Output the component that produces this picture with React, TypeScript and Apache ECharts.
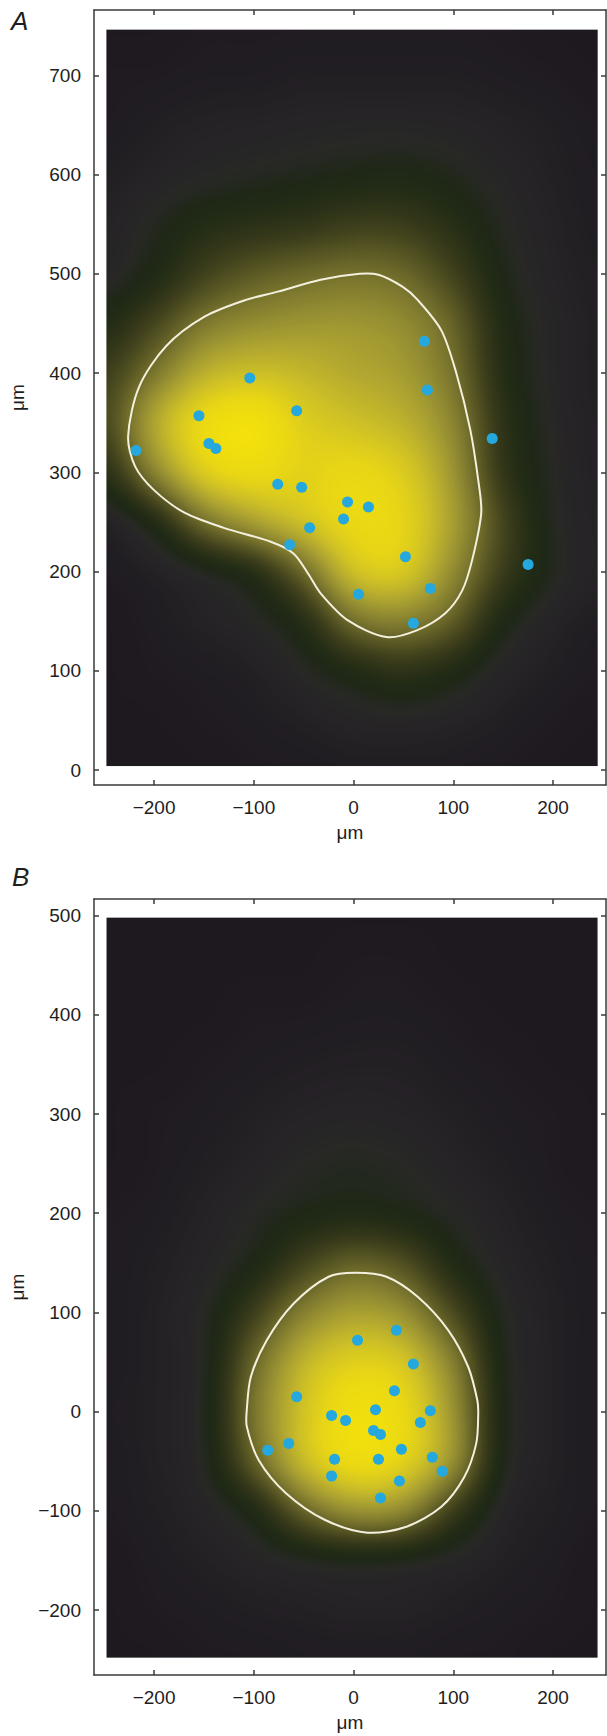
import React, { useEffect, useRef } from "react";
import * as echarts from "echarts";

// ---------------- data ----------------
const X_TICKS = [-200, -100, 0, 100, 200];
const A_Y_TICKS = [0, 100, 200, 300, 400, 500, 600, 700];
const B_Y_TICKS = [-200, -100, 0, 100, 200, 300, 400, 500];

// cell positions (µm), panel A
const A_CELL_X = [71, -104, 74, -155, -57, 139, -218, -145, -138, -76, -52, -6, 15, -10, -44, -64, 52, 175, 5, 77, 60];
const A_CELL_Y = [432, 395, 383, 357, 362, 334, 322, 329, 324, 288, 285, 270, 265, 253, 244, 227, 215, 207, 177, 183, 148];

// cell positions (µm), panel B
const B_CELL_X = [4, 43, 60, 41, -57, 22, 77, -22, -8, 67, 20, 27, -65, -86, 48, -19, 25, 79, 89, -22, 46, 27];
const B_CELL_Y = [72, 82, 48, 21, 15, 2, 1, -4, -9, -11, -19, -23, -32, -39, -38, -48, -48, -46, -60, -65, -70, -87];

// white contour line (closed), panel A
const A_CONTOUR_X = [6, 25, 49, 64, 88, 103, 117, 125, 128, 119, 109, 92, 64, 33, -6, -33, -45, -60, -83, -130, -169, -200, -219, -226, -215, -188, -149, -107, -76, -33];
const A_CONTOUR_Y = [500, 499, 487, 474, 443, 400, 343, 292, 259, 212, 181, 158, 141, 134, 151, 178, 197, 218, 230, 244, 259, 282, 306, 336, 386, 427, 457, 474, 482, 494];

// white contour line (closed), panel B
const B_CONTOUR_X = [2, 33, 64, 95, 115, 124, 125, 123, 111, 88, 53, 14, -29, -68, -95, -107, -107, -103, -87, -60, -25];
const B_CONTOUR_Y = [140, 136, 116, 82, 45, 12, -2, -32, -66, -96, -116, -122, -109, -82, -49, -15, 2, 35, 72, 109, 136];

// density field (relative, 0..1) read on a 50 µm grid
const FIELD_X = [-250, -200, -150, -100, -50, 0, 50, 100, 150, 200, 250];

const A_FIELD_Y = [750, 700, 650, 600, 550, 500, 450, 400, 350, 300, 250, 200, 150, 100, 50, 0];
const A_FIELD = [
  [0, 0, 0.01, 0.01, 0.01, 0.01, 0.01, 0.01, 0.01, 0, 0],
  [0.01, 0.01, 0.02, 0.02, 0.03, 0.03, 0.03, 0.03, 0.02, 0.01, 0],
  [0.01, 0.03, 0.05, 0.06, 0.07, 0.08, 0.08, 0.07, 0.05, 0.03, 0.01],
  [0.03, 0.06, 0.09, 0.11, 0.13, 0.15, 0.16, 0.13, 0.08, 0.04, 0.02],
  [0.05, 0.12, 0.2, 0.23, 0.26, 0.31, 0.3, 0.22, 0.11, 0.05, 0.02],
  [0.07, 0.17, 0.32, 0.42, 0.47, 0.5, 0.47, 0.33, 0.14, 0.06, 0.03],
  [0.18, 0.34, 0.53, 0.6, 0.63, 0.64, 0.6, 0.46, 0.18, 0.08, 0.03],
  [0.3, 0.52, 0.74, 0.8, 0.76, 0.7, 0.66, 0.51, 0.2, 0.08, 0.03],
  [0.34, 0.72, 0.95, 1.0, 0.86, 0.8, 0.74, 0.58, 0.24, 0.09, 0.04],
  [0.22, 0.58, 0.88, 0.94, 0.88, 0.92, 0.86, 0.64, 0.26, 0.1, 0.04],
  [0.03, 0.18, 0.5, 0.68, 0.82, 0.93, 0.9, 0.68, 0.34, 0.11, 0.05],
  [0.01, 0.04, 0.1, 0.2, 0.47, 0.82, 0.86, 0.6, 0.3, 0.12, 0.05],
  [0, 0.02, 0.05, 0.09, 0.2, 0.5, 0.56, 0.44, 0.16, 0.06, 0.02],
  [0, 0.01, 0.02, 0.04, 0.1, 0.18, 0.25, 0.18, 0.07, 0.03, 0.01],
  [0, 0, 0.01, 0.02, 0.04, 0.07, 0.08, 0.06, 0.03, 0.01, 0],
  [0, 0, 0, 0.01, 0.01, 0.02, 0.02, 0.02, 0.01, 0, 0],
];

const B_FIELD_Y = [500, 450, 400, 350, 300, 250, 200, 150, 100, 50, 0, -50, -100, -150, -200, -250];
const B_FIELD = [
  [0, 0, 0, 0, 0, 0, 0, 0, 0, 0, 0],
  [0, 0, 0, 0, 0, 0.01, 0.01, 0, 0, 0, 0],
  [0, 0, 0, 0.01, 0.01, 0.02, 0.02, 0.01, 0, 0, 0],
  [0, 0, 0.01, 0.02, 0.03, 0.04, 0.04, 0.02, 0.01, 0, 0],
  [0, 0.01, 0.02, 0.04, 0.06, 0.07, 0.06, 0.04, 0.02, 0.01, 0],
  [0, 0.01, 0.03, 0.06, 0.1, 0.12, 0.1, 0.06, 0.03, 0.01, 0],
  [0.01, 0.02, 0.05, 0.1, 0.15, 0.17, 0.15, 0.1, 0.05, 0.02, 0.01],
  [0.01, 0.03, 0.07, 0.15, 0.32, 0.45, 0.38, 0.18, 0.07, 0.03, 0.01],
  [0.01, 0.04, 0.1, 0.31, 0.56, 0.68, 0.62, 0.36, 0.11, 0.04, 0.01],
  [0.01, 0.04, 0.1, 0.47, 0.76, 0.88, 0.84, 0.56, 0.13, 0.04, 0.01],
  [0.02, 0.04, 0.11, 0.52, 0.82, 0.98, 0.93, 0.64, 0.14, 0.04, 0.01],
  [0.01, 0.04, 0.1, 0.45, 0.8, 0.96, 0.9, 0.64, 0.13, 0.04, 0.01],
  [0.01, 0.03, 0.07, 0.17, 0.46, 0.63, 0.6, 0.3, 0.07, 0.03, 0.01],
  [0, 0.02, 0.04, 0.07, 0.1, 0.12, 0.11, 0.08, 0.04, 0.02, 0],
  [0, 0.01, 0.02, 0.03, 0.04, 0.05, 0.05, 0.03, 0.02, 0.01, 0],
  [0, 0, 0.01, 0.01, 0.02, 0.02, 0.02, 0.01, 0.01, 0, 0],
];

// extent of the coloured map [xMin, xMax, yMin, yMax]
const A_MAP_EXTENT = [-249, 246, 4, 746];
const B_MAP_EXTENT = [-249, 246, -248, 498];

// axis ranges
const X_RANGE = [-260.2, 253.1];
const A_Y_RANGE = [-15.1, 765.8];
const B_Y_RANGE = [-265.5, 516.8];

// colour scale
const CMAP_T = [0, 0.05, 0.1, 0.15, 0.2, 0.3, 0.4, 0.5, 0.6, 0.7, 0.8, 0.9, 1];
const CMAP_RGB = [
  [29, 25, 31],
  [37, 34, 38],
  [40, 40, 38],
  [31, 40, 23],
  [35, 44, 21],
  [58, 60, 27],
  [86, 85, 35],
  [118, 114, 45],
  [148, 141, 50],
  [178, 168, 48],
  [207, 193, 38],
  [232, 214, 22],
  [245, 226, 10],
];

function buildLut(): number[][] {
  const lut: number[][] = [];
  for (let k = 0; k < 256; k++) {
    const t = k / 255;
    let i = 0;
    while (i < CMAP_T.length - 2 && t > CMAP_T[i + 1]) i++;
    const f = Math.max(0, Math.min(1, (t - CMAP_T[i]) / (CMAP_T[i + 1] - CMAP_T[i])));
    const a = CMAP_RGB[i];
    const b = CMAP_RGB[i + 1];
    lut.push([0, 1, 2].map((j) => Math.round(a[j] + (b[j] - a[j]) * f)));
  }
  return lut;
}

function buildFieldImage(gridX: number[], gridY: number[], rows: number[][], extent: number[]): string {
  const nx = gridX.length;
  const ny = gridY.length;
  const small = document.createElement("canvas");
  small.width = nx;
  small.height = ny;
  const sctx = small.getContext("2d")!;
  const sImg = sctx.createImageData(nx, ny);
  for (let r = 0; r < ny; r++) {
    for (let c = 0; c < nx; c++) {
      const v = Math.round(Math.max(0, Math.min(1, rows[r][c])) * 255);
      const k = (r * nx + c) * 4;
      sImg.data[k] = v;
      sImg.data[k + 1] = v;
      sImg.data[k + 2] = v;
      sImg.data[k + 3] = 255;
    }
  }
  sctx.putImageData(sImg, 0, 0);

  const stepX = gridX[1] - gridX[0];
  const stepY = gridY[0] - gridY[1];
  const fullX0 = gridX[0] - stepX / 2;
  const fullX1 = gridX[nx - 1] + stepX / 2;
  const fullY1 = gridY[0] + stepY / 2;
  const fullY0 = gridY[ny - 1] - stepY / 2;

  const mid = document.createElement("canvas");
  mid.width = Math.round(fullX1 - fullX0);
  mid.height = Math.round(fullY1 - fullY0);
  const mctx = mid.getContext("2d")!;
  mctx.imageSmoothingEnabled = true;
  (mctx as any).imageSmoothingQuality = "high";
  mctx.drawImage(small, 0, 0, mid.width, mid.height);

  const [x0, x1, y0, y1] = extent;
  const out = document.createElement("canvas");
  out.width = Math.round(x1 - x0);
  out.height = Math.round(y1 - y0);
  const octx = out.getContext("2d")!;
  (octx as any).filter = "blur(6px)";
  octx.drawImage(mid, fullX0 - x0, y1 - fullY1);
  (octx as any).filter = "none";

  const lut = buildLut();
  const img = octx.getImageData(0, 0, out.width, out.height);
  const d = img.data;
  for (let k = 0; k < d.length; k += 4) {
    const col = lut[d[k]];
    d[k] = col[0];
    d[k + 1] = col[1];
    d[k + 2] = col[2];
    d[k + 3] = 255;
  }
  octx.putImageData(img, 0, 0);
  return out.toDataURL("image/png");
}

const FONT = '"Liberation Sans", Arial, Helvetica, sans-serif';
const AXIS_COLOR = "#3a3a3a";
const minus = (v: number) => String(v).replace("-", "\u2212");

function makeXAxes(gridIndex: number, labelMargin: number, nameGap: number) {
  const line = { show: true, onZero: false, lineStyle: { color: AXIS_COLOR, width: 1.5 } };
  const tick = { show: true, inside: true, length: 5, customValues: X_TICKS, lineStyle: { color: AXIS_COLOR, width: 1.5 } };
  return [
    {
      type: "value",
      gridIndex,
      position: "bottom",
      min: X_RANGE[0],
      max: X_RANGE[1],
      axisLine: line,
      axisTick: tick,
      splitLine: { show: false },
      axisLabel: {
        customValues: X_TICKS,
        formatter: minus,
        margin: labelMargin,
        fontSize: 19,
        color: "#1e1e1e",
        fontFamily: FONT,
      },
      name: "μm",
      nameLocation: "middle",
      nameGap,
      nameTextStyle: { fontSize: 19, color: "#1e1e1e", fontFamily: FONT },
    },
    {
      type: "value",
      gridIndex,
      position: "top",
      min: X_RANGE[0],
      max: X_RANGE[1],
      axisLine: line,
      axisTick: tick,
      splitLine: { show: false },
      axisLabel: { show: false },
    },
  ];
}

function makeYAxes(gridIndex: number, range: number[], ticks: number[]) {
  const line = { show: true, onZero: false, lineStyle: { color: AXIS_COLOR, width: 1.5 } };
  const tick = { show: true, inside: true, length: 5, customValues: ticks, lineStyle: { color: AXIS_COLOR, width: 1.5 } };
  return [
    {
      type: "value",
      gridIndex,
      position: "left",
      min: range[0],
      max: range[1],
      axisLine: line,
      axisTick: tick,
      splitLine: { show: false },
      axisLabel: {
        customValues: ticks,
        formatter: minus,
        margin: 13,
        fontSize: 19,
        color: "#1e1e1e",
        fontFamily: FONT,
      },
      name: "μm",
      nameLocation: "middle",
      nameGap: 67,
      nameTextStyle: { fontSize: 19, color: "#1e1e1e", fontFamily: FONT },
    },
    {
      type: "value",
      gridIndex,
      position: "right",
      min: range[0],
      max: range[1],
      axisLine: line,
      axisTick: tick,
      splitLine: { show: false },
      axisLabel: { show: false },
    },
  ];
}

function fieldSeries(axisIndex: number, extent: number[], url: string) {
  return {
    type: "custom",
    xAxisIndex: axisIndex,
    yAxisIndex: axisIndex,
    silent: true,
    z: 1,
    data: [extent],
    renderItem: (_params: any, api: any) => {
      const p0 = api.coord([api.value(0), api.value(3)]);
      const p1 = api.coord([api.value(1), api.value(2)]);
      return {
        type: "image",
        style: { image: url, x: p0[0], y: p0[1], width: p1[0] - p0[0], height: p1[1] - p0[1] },
      };
    },
  };
}

// closed smooth contour drawn through the axes' scales
function contourSeries(axisIndex: number, xs: number[], ys: number[]) {
  return {
    type: "custom",
    xAxisIndex: axisIndex,
    yAxisIndex: axisIndex,
    silent: true,
    z: 3,
    data: xs.map((x, i) => [x, ys[i]]),
    renderItem: (params: any, api: any) => {
      if (params.dataIndex !== 0) return null;
      const points = xs.map((x, i) => api.coord([x, ys[i]]));
      return {
        type: "polygon",
        shape: { points, smooth: 0.3 },
        style: { fill: "none", stroke: "#f4f0de", lineWidth: 2 },
      };
    },
  };
}

function cellSeries(axisIndex: number, xs: number[], ys: number[]) {
  return {
    type: "scatter",
    xAxisIndex: axisIndex,
    yAxisIndex: axisIndex,
    data: xs.map((x, i) => [x, ys[i]]),
    symbol: "circle",
    symbolSize: 11,
    silent: true,
    z: 4,
    itemStyle: { color: "#24a8de", opacity: 1 },
  };
}

export default function App() {
  const ref = useRef<HTMLDivElement>(null);

  useEffect(() => {
    if (!ref.current) return;
    const chart = echarts.init(ref.current, undefined, { renderer: "svg" });
    const urlA = buildFieldImage(FIELD_X, A_FIELD_Y, A_FIELD, A_MAP_EXTENT);
    const urlB = buildFieldImage(FIELD_X, B_FIELD_Y, B_FIELD, B_MAP_EXTENT);

    chart.setOption({
      animation: false,
      backgroundColor: "#ffffff",
      grid: [
        { left: 94, top: 10, width: 512, height: 775, show: false },
        { left: 94, top: 899, width: 512, height: 776, show: false },
      ],
      xAxis: [...makeXAxes(0, 13, 38), ...makeXAxes(1, 13, 38)],
      yAxis: [...makeYAxes(0, A_Y_RANGE, A_Y_TICKS), ...makeYAxes(1, B_Y_RANGE, B_Y_TICKS)],
      graphic: [
        {
          type: "text",
          x: 11,
          y: 21,
          style: { text: "A", font: `italic 26px ${FONT}`, fill: "#1e1e1e", verticalAlign: "middle" },
        },
        {
          type: "text",
          x: 12,
          y: 877,
          style: { text: "B", font: `italic 26px ${FONT}`, fill: "#1e1e1e", verticalAlign: "middle" },
        },
      ],
      series: [
        fieldSeries(0, A_MAP_EXTENT, urlA),
        contourSeries(0, A_CONTOUR_X, A_CONTOUR_Y),
        cellSeries(0, A_CELL_X, A_CELL_Y),
        fieldSeries(2, B_MAP_EXTENT, urlB),
        contourSeries(2, B_CONTOUR_X, B_CONTOUR_Y),
        cellSeries(2, B_CELL_X, B_CELL_Y),
      ],
    });

    return () => chart.dispose();
  }, []);

  return (
    <div
      ref={ref}
      style={{ position: "absolute", left: 0, top: 0, width: 607, height: 1736 }}
    />
  );
}
